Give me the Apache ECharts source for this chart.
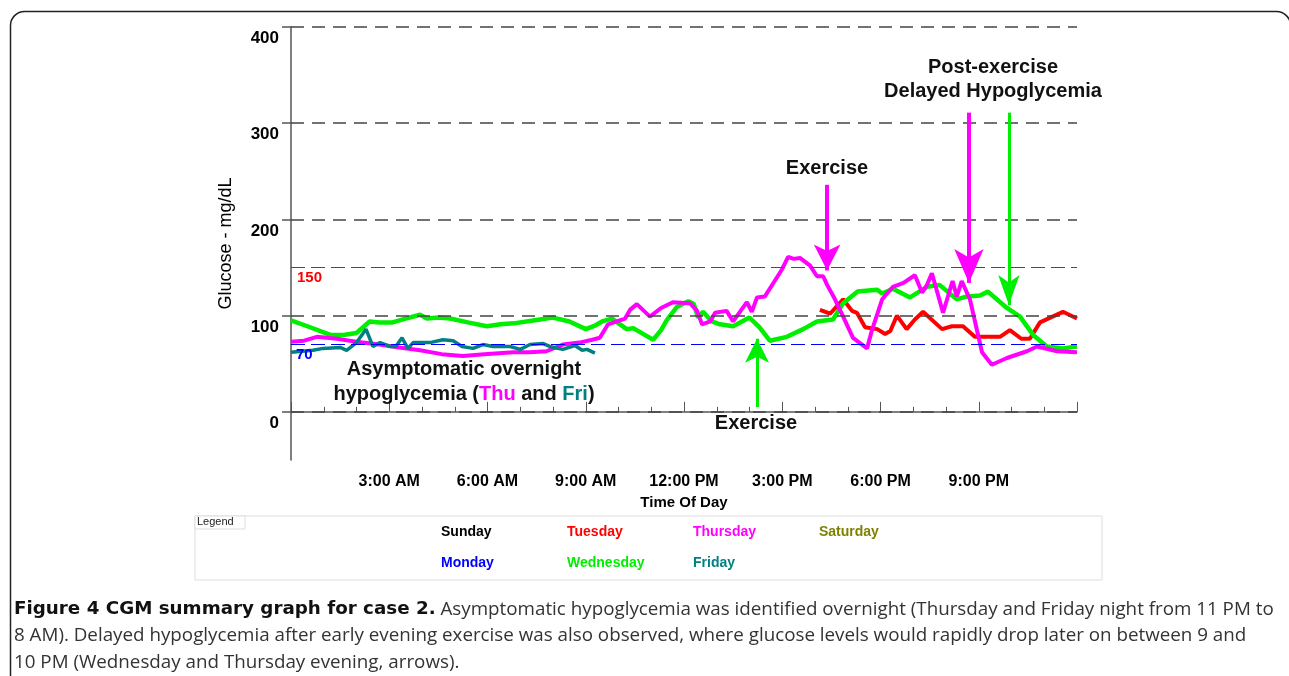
<!DOCTYPE html>
<html>
<head>
<meta charset="utf-8">
<script src="https://cdn.jsdelivr.net/npm/echarts@6/dist/echarts.min.js"></script>
<style>
html,body{margin:0;padding:0;background:#fff;}
#chart{width:1289px;height:676px;}
</style>
</head>
<body>
<div id="chart"></div>
<script>
// ---------- data (hour of day, glucose mg/dL) ----------
const tuesday = [[16.15,106],[16.46,102],[16.86,117],[17.13,105],[17.28,103],[17.53,88],[17.9,86],[18.14,81],[18.3,84],[18.5,100],[18.8,86],[19.05,96],[19.3,104],[19.88,86],[20.18,89],[20.52,89],[20.88,78],[21.65,78],[21.95,85],[22.3,76],[22.56,76],[22.87,93],[23.57,104],[24,97]];
const wednesday = [[0,95],[0.5,89],[1.2,80],[1.6,80],[2.0,82],[2.4,94],[2.7,93],[3.1,93],[3.5,97],[3.94,101],[4.15,97],[4.5,98],[4.86,97],[5.4,93],[5.98,89],[6.4,91],[6.8,92],[7.4,95],[8.0,98],[8.5,94],[9.0,86],[9.3,90],[9.5,94],[9.8,97],[10.25,86],[10.45,87],[10.8,80],[11.06,75],[11.3,85],[11.47,95],[11.78,109],[12.13,115],[12.3,112],[12.43,98],[12.58,104],[12.85,94],[13.1,91],[13.5,89],[14.0,98],[14.3,88],[14.62,74],[15.14,78],[15.64,86],[16.06,94],[16.55,96],[16.86,113],[17.3,125],[17.9,127],[18.05,123],[18.38,128],[18.9,119],[19.42,130],[19.8,132],[20.33,117],[20.64,120],[21.04,121],[21.28,125],[21.86,108],[22.26,99],[22.66,80],[23.08,68],[23.57,66],[24,68]];
const thursday = [[0,73],[0.4,74],[0.79,78],[1.4,76],[2.0,73],[2.7,70],[3.3,67],[3.94,64],[4.6,60],[5.25,58],[5.9,60],[6.78,62],[7.3,62],[7.8,63],[8.3,70],[8.8,72],[9.2,75],[9.43,77],[9.68,91],[9.95,94],[10.2,97],[10.35,106],[10.56,112],[10.96,99],[11.3,108],[11.66,114],[12.18,113],[12.4,105],[12.55,91],[12.8,94],[12.95,103],[13.3,105],[13.5,94],[13.92,114],[14.07,104],[14.23,119],[14.47,120],[14.73,134],[14.99,148],[15.18,161],[15.35,159],[15.54,160],[15.85,152],[16.06,141],[16.25,141],[16.37,132],[16.61,117],[16.86,99],[17.16,77],[17.59,66],[17.74,85],[18.05,117],[18.38,130],[18.7,134],[19.05,142],[19.27,124],[19.42,132],[19.57,144],[19.91,103],[20.2,136],[20.33,120],[20.48,136],[20.73,117],[21.1,62],[21.4,49],[21.86,56],[22.47,63],[22.78,68],[23.39,63],[24,62]];
const friday = [[0,62],[0.67,64],[0.98,66],[1.5,67],[1.7,64],[2.0,72],[2.29,86],[2.5,68],[2.72,72],[3.02,68],[3.2,68],[3.39,77],[3.57,66],[3.73,72],[4.24,72],[4.64,75],[4.95,74],[5.22,68],[5.56,66],[5.86,70],[6.17,68],[6.69,68],[7.0,65],[7.3,70],[7.7,71],[7.9,68],[8.3,65],[8.67,69],[8.89,64],[9.04,65],[9.28,61]];

const yTicks = [0, 100, 200, 300, 400];
const xTickLabels = ['', '3:00 AM', '6:00 AM', '9:00 AM', '12:00 PM', '3:00 PM', '6:00 PM', '9:00 PM', ''];
const highLimit = 150;
const lowLimit = 70;

// legend entries: [name, colour]
const legendRow1 = [['Sunday','#000000'],['Tuesday','#ff0000'],['Thursday','#ff00ff'],['Saturday','#808000']];
const legendRow2 = [['Monday','#0000ff'],['Wednesday','#00ee00'],['Friday','#008080']];

// arrows: [colour, hour, fromValue, toValue, headWidth, headLength, shaftWidth]
const arrows = [
  ['#00ee00', 14.23, 5, 76, 18, 24, 3],
  ['#ff00ff', 16.37, 236, 147, 20, 26, 4],
  ['#ff00ff', 20.70, 311, 134, 22, 34, 4],
  ['#00ee00', 21.92, 311, 111, 16, 30, 3]
];

const FONT = '"Liberation Sans", Arial, Helvetica, sans-serif';

const chart = echarts.init(document.getElementById('chart'), null, {renderer: 'canvas'});

const gridMarks = yTicks.map(v => ({yAxis: v}));

const arrowSeries = arrows.map((a, i) => ({
  type: 'line',
  name: 'arrow' + i,
  data: [],
  silent: true,
  z: 5,
  markLine: {
    silent: true,
    animation: false,
    symbol: ['none', 'arrow'],
    label: {show: false},
    lineStyle: {color: a[0], width: a[6], type: 'solid'},
    data: [[
      {coord: [a[1], a[2]], symbol: 'none'},
      {coord: [a[1], a[3]], symbol: 'arrow', symbolSize: [a[4], a[5]]}
    ]]
  }
}));

const lineStyleFor = (c, w) => ({color: c, width: w});

const option = {
  animation: false,
  backgroundColor: '#ffffff',
  grid: {left: 291, top: 27, right: 212, bottom: 216, containLabel: false},
  xAxis: {
    type: 'value', min: 0, max: 24, interval: 3,
    name: 'Time Of Day', nameLocation: 'middle', nameGap: 26,
    nameTextStyle: {fontFamily: FONT, fontWeight: 'bold', fontSize: 15, color: '#000'},
    axisLine: {show: true, lineStyle: {color: '#555', width: 1.5}},
    axisTick: {show: true, inside: true, length: 10, lineStyle: {color: '#555', width: 1}},
    minorTick: {show: true, splitNumber: 3, length: 5, lineStyle: {color: '#555', width: 1}},
    axisLabel: {
      showMinLabel: false, showMaxLabel: false, margin: 14,
      fontFamily: FONT, fontWeight: 'bold', fontSize: 16, color: '#000',
      formatter: v => xTickLabels[Math.round(v / 3)] || ''
    },
    splitLine: {show: false}
  },
  yAxis: {
    type: 'value', min: -50, max: 400, interval: 50,
    name: 'Glucose - mg/dL', nameLocation: 'middle', nameGap: 56, nameRotate: 90,
    nameTextStyle: {fontFamily: FONT, fontSize: 18, color: '#000'},
    axisLine: {show: true, lineStyle: {color: '#555', width: 1.5}},
    axisTick: {show: true, inside: false, length: 9, customValues: yTicks, lineStyle: {color: '#555', width: 1.5}},
    axisLabel: {
      customValues: yTicks, margin: 12, verticalAlign: 'top', padding: [3, 0, 0, 0],
      fontFamily: FONT, fontWeight: 'bold', fontSize: 17, color: '#000',
      formatter: v => (yTicks.indexOf(v) >= 0 ? String(v) : '')
    },
    splitLine: {show: false}
  },
  series: [
    {
      type: 'line', name: 'grid', data: [], silent: true, z: 1,
      markLine: {
        silent: true, animation: false, symbol: ['none', 'none'],
        label: {show: false},
        lineStyle: {color: '#444', width: 1.5, type: [13, 8]},
        data: gridMarks
      }
    },
    {
      type: 'line', name: 'limits', data: [], silent: true, z: 1,
      markLine: {
        silent: true, animation: false, symbol: ['none', 'none'],
        data: [
          {yAxis: highLimit, lineStyle: {color: '#ff0000', width: 1, type: [14, 6]},
           label: {show: true, position: 'insideStartBottom', distance: [6, 3], formatter: String(highLimit),
                   color: '#ff0000', fontFamily: FONT, fontWeight: 'bold', fontSize: 15}},
          {yAxis: lowLimit, lineStyle: {color: '#0000ff', width: 1, type: [14, 6]},
           label: {show: true, position: 'insideStartBottom', distance: [5, 3], formatter: String(lowLimit),
                   color: '#0000ff', fontFamily: FONT, fontWeight: 'bold', fontSize: 15}}
        ]
      }
    },
    {type: 'line', name: 'Tuesday', data: tuesday, showSymbol: false, z: 2, lineStyle: lineStyleFor('#ff0000', 4), itemStyle: {color: '#ff0000'}},
    {type: 'line', name: 'Wednesday', data: wednesday, showSymbol: false, z: 2, lineStyle: lineStyleFor('#00ee00', 4.5), itemStyle: {color: '#00ee00'}},
    {type: 'line', name: 'Thursday', data: thursday, showSymbol: false, z: 2, lineStyle: lineStyleFor('#ff00ff', 4), itemStyle: {color: '#ff00ff'}},
    {type: 'line', name: 'Friday', data: friday, showSymbol: false, z: 2, lineStyle: lineStyleFor('#008080', 3.5), itemStyle: {color: '#008080'}}
  ].concat(arrowSeries),
  graphic: []
};

// ---------- annotations, legend box, caption, frame ----------
const annStyle = {fontFamily: FONT, fontWeight: 'bold', fontSize: 20, fill: '#111', textAlign: 'center', textVerticalAlign: 'middle'};
const g = [];
g.push({type: 'rect', left: 8, top: 9, shape: {width: 1280, height: 720, r: 14}, style: {fill: 'none', stroke: '#222', lineWidth: 1.5}, z: 0, silent: true});
g.push({type: 'text', x: 464, y: 369, style: Object.assign({}, annStyle, {text: 'Asymptomatic overnight'}), z: 10});
g.push({type: 'text', x: 464, y: 394, style: Object.assign({}, annStyle, {
  text: 'hypoglycemia ({thu|Thu} and {fri|Fri})',
  rich: {thu: {fill: '#ff00ff', fontFamily: FONT, fontWeight: 'bold', fontSize: 20}, fri: {fill: '#008080', fontFamily: FONT, fontWeight: 'bold', fontSize: 20}}
}), z: 10});
g.push({type: 'text', x: 756, y: 423, style: Object.assign({}, annStyle, {text: 'Exercise'}), z: 10});
g.push({type: 'text', x: 827, y: 168, style: Object.assign({}, annStyle, {text: 'Exercise'}), z: 10});
g.push({type: 'text', x: 993, y: 67, style: Object.assign({}, annStyle, {text: 'Post-exercise'}), z: 10});
g.push({type: 'text', x: 993, y: 91, style: Object.assign({}, annStyle, {text: 'Delayed Hypoglycemia'}), z: 10});

// legend box
g.push({type: 'rect', shape: {x: 195, y: 516, width: 907, height: 64}, style: {fill: '#fff', stroke: '#dddddd', lineWidth: 1}, z: 1});
g.push({type: 'rect', shape: {x: 195, y: 516, width: 50, height: 13}, style: {fill: '#fff', stroke: '#dddddd', lineWidth: 1}, z: 2});
g.push({type: 'text', x: 197, y: 522, style: {text: 'Legend', fontFamily: FONT, fontSize: 11, fill: '#222', textVerticalAlign: 'middle'}, z: 3});
const colX = [441, 567, 693, 819];
legendRow1.forEach((d, i) => g.push({type: 'text', x: colX[i], y: 532, style: {text: d[0], fill: d[1], fontFamily: FONT, fontWeight: 'bold', fontSize: 14, textVerticalAlign: 'middle'}, z: 3}));
legendRow2.forEach((d, i) => g.push({type: 'text', x: colX[i], y: 563, style: {text: d[0], fill: d[1], fontFamily: FONT, fontWeight: 'bold', fontSize: 14, textVerticalAlign: 'middle'}, z: 3}));

// caption
const capFont = '"Open Sans", "Noto Sans", sans-serif';
const capBoldFont = '"DejaVu Sans", "Open Sans", sans-serif';
g.push({type: 'text', x: 14, y: 596, style: {
  text: '{b|Figure 4 CGM summary graph for case 2.} Asymptomatic hypoglycemia was identified overnight (Thursday and Friday night from 11 PM to\n8 AM). Delayed hypoglycemia after early evening exercise was also observed, where glucose levels would rapidly drop later on between 9 and\n10 PM (Wednesday and Thursday evening, arrows).',
  fontFamily: capFont, fontSize: 18.8, fill: '#333', lineHeight: 26.5,
  rich: {b: {fontFamily: capBoldFont, fontWeight: 'bold', fontSize: 18.3, fill: '#111', lineHeight: 26.5}}
}, z: 3});

option.graphic = g;
chart.setOption(option);
</script>
</body>
</html>
